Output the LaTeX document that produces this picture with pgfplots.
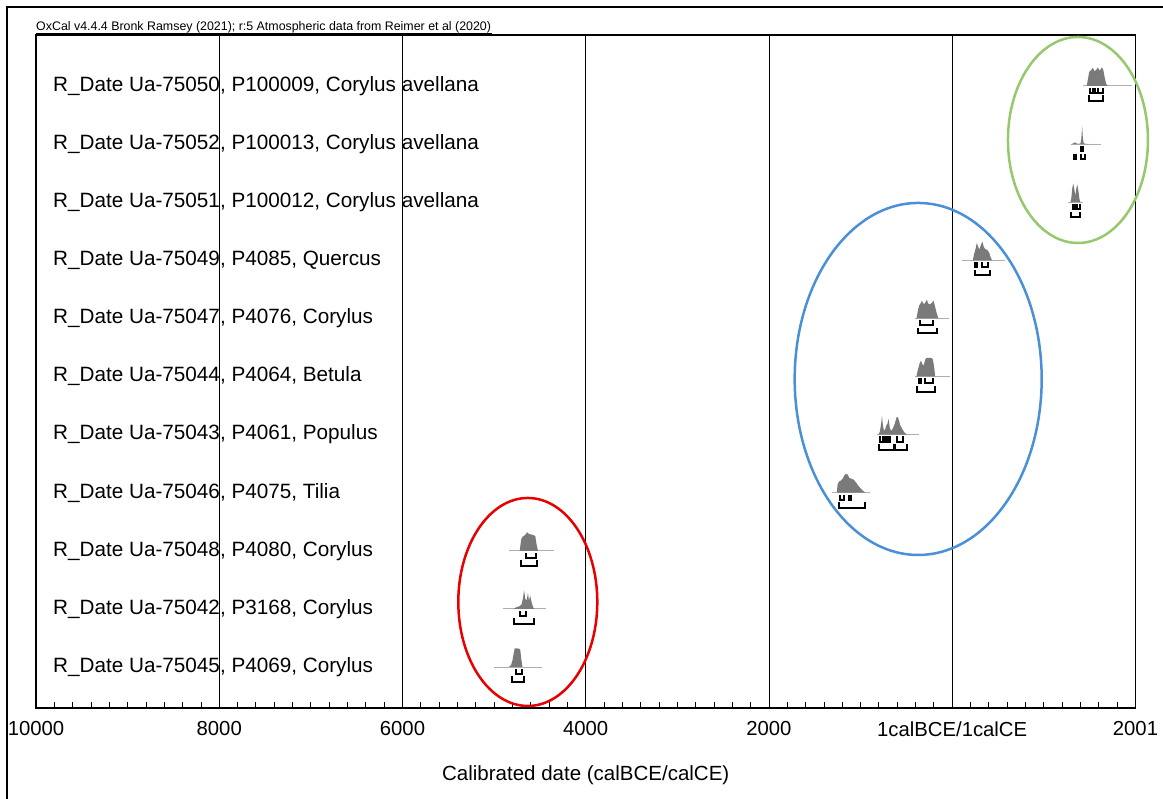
\documentclass[border=0pt]{standalone}
\usepackage{fontspec}
\setmainfont{Liberation Sans}
\usepackage{pgfplots}
\pgfplotsset{compat=1.18}
\usepackage{pgfplotstable}

\definecolor{distgray}{RGB}{122,122,122}
\definecolor{basegray}{RGB}{175,175,175}
\definecolor{ellgreen}{RGB}{150,200,110}
\definecolor{ellblue}{RGB}{74,144,217}
\definecolor{ellred}{RGB}{232,0,0}

% Calibrated probability distributions: yr = calendar year (negative = BCE), p = relative probability
\pgfplotstableread{
yr p
1468 0
1480 0.3
1495 0.75
1515 0.85
1537 0.97
1552 0.8
1570 0.85
1591 1.0
1608 0.82
1622 0.9
1635 1.0
1650 0.85
1665 0.45
1682 0.1
1700 0
}\uaFiftyZero
\pgfplotstableread{
yr p
1300 0
1325 0.04
1340 0.1
1352 0.04
1380 0.01
1400 0.03
1410 0.3
1418 1.0
1426 0.35
1436 0.04
1460 0.01
1500 0
}\uaFiftyTwo
\pgfplotstableread{
yr p
1290 0
1300 0.2
1312 0.8
1322 1.0
1333 0.7
1345 0.35
1355 0.75
1366 0.95
1378 0.6
1390 0.15
1400 0
}\uaFiftyOne
\pgfplotstableread{
yr p
225 0
240 0.35
255 0.6
268 0.92
282 0.75
298 0.58
315 0.85
330 1.0
345 0.72
360 0.6
385 0.55
405 0.4
420 0.15
436 0
}\uaFortyNine
\pgfplotstableread{
yr p
-390 0
-375 0.4
-360 0.7
-345 0.8
-330 0.95
-315 0.8
-300 0.78
-288 0.9
-276 1.0
-262 0.8
-245 0.75
-225 0.82
-204 0.95
-190 0.7
-170 0.3
-150 0
}\uaFortySeven
\pgfplotstableread{
yr p
-390 0
-375 0.35
-355 0.7
-341 0.85
-325 0.65
-310 0.6
-295 0.9
-280 1.0
-250 1.0
-225 1.0
-210 0.9
-198 0.55
-185 0
}\uaFortyFour
\pgfplotstableread{
yr p
-805 0
-790 0.15
-775 0.6
-766 1.0
-757 0.55
-745 0.2
-730 0.3
-718 0.5
-705 0.6
-694 0.85
-682 0.4
-668 0.2
-650 0.3
-625 0.6
-610 0.9
-595 0.95
-580 0.75
-567 0.5
-545 0.3
-520 0.1
-494 0
}\uaFortyThree
\pgfplotstableread{
yr p
-1260 0
-1250 0.45
-1235 0.6
-1215 0.65
-1195 0.75
-1175 0.95
-1160 1.0
-1140 0.98
-1125 0.8
-1100 0.75
-1075 0.7
-1050 0.55
-1020 0.35
-985 0.15
-948 0
}\uaFortySix
\pgfplotstableread{
yr p
-4720 0
-4705 0.6
-4690 0.75
-4660 0.85
-4640 1.0
-4625 0.92
-4600 0.88
-4570 0.85
-4550 0.78
-4535 0.3
-4520 0
}\uaFortyEight
\pgfplotstableread{
yr p
-4790 0
-4760 0.08
-4720 0.15
-4700 0.25
-4685 0.55
-4673 1.0
-4660 0.55
-4645 0.45
-4630 0.85
-4620 0.45
-4605 0.7
-4590 0.35
-4575 0.1
-4560 0
}\uaFortyTwo
\pgfplotstableread{
yr p
-4840 0
-4815 0.1
-4800 0.35
-4785 0.75
-4775 1.0
-4740 1.0
-4715 0.95
-4705 0.5
-4690 0
}\uaFortyFive

% one calibrated date: baseline (range of calculation) and filled distribution
\newcommand{\caldist}[4]{% #1 table, #2 row, #3 from, #4 to
  \addplot[basegray, line width=0.9pt] coordinates {(#3,#2) (#4,#2)};
  \addplot[fill=distgray, draw=none] table[x=yr, y expr=#2+0.32*\thisrow{p}] {#1};
}
% highest posterior density range: level 1 = 68.2%, level 2 = 95.4%
\newcommand{\hpd}[4]{% #1 row, #2 level, #3 from, #4 to
  \pgfmathsetmacro\hpdtop{#1-(#2==1 ? 0.05 : 0.18)}%
  \pgfmathsetmacro\hpdbot{#1-(#2==1 ? 0.12 : 0.26)}%
  \edef\hpdplot{\noexpand\addplot[black, line width=2pt, line cap=rect] coordinates {(#3,\hpdtop) (#3,\hpdbot) (#4,\hpdbot) (#4,\hpdtop)};}%
  \hpdplot
}

\begin{document}
\begin{tikzpicture}[x=1pt, y=1pt]
\begin{axis}[
  at={(36pt,91pt)}, anchor=south west,
  width=1099.5pt, height=673pt, scale only axis,
  xmin=-10000, xmax=2001, ymin=0.2943, ymax=11.877,
  clip=false,
  scaled x ticks=false,
  axis line style={line width=1.6pt},
  x axis line style={line width=2.4pt},
  xtick={-10000,-8000,-6000,-4000,-2000,0,2001},
  xticklabels={10000,8000,6000,4000,2000,1calBCE/1calCE,2001},
  minor xtick={-9800,-9600,...,1800},
  xtick pos=bottom, tick align=inside,
  major tick length=0pt, minor tick length=6pt,
  minor tick style={black, line width=0.8pt},
  xmajorgrids, major grid style={black, line width=0.8pt},
  ytick={1,...,11},
  ytick style={draw=none},
  yticklabels={
    {R\_Date Ua-75045, P4069, Corylus},
    {R\_Date Ua-75042, P3168, Corylus},
    {R\_Date Ua-75048, P4080, Corylus},
    {R\_Date Ua-75046, P4075, Tilia},
    {R\_Date Ua-75043, P4061, Populus},
    {R\_Date Ua-75044, P4064, Betula},
    {R\_Date Ua-75047, P4076, Corylus},
    {R\_Date Ua-75049, P4085, Quercus},
    {R\_Date Ua-75051, P100012, Corylus avellana},
    {R\_Date Ua-75052, P100013, Corylus avellana},
    {R\_Date Ua-75050, P100009, Corylus avellana}},
  yticklabel style={anchor=west, xshift=17pt, inner sep=0pt, font=\fontsize{20.7}{24}\selectfont},
  xticklabel style={font=\fontsize{20.3}{24}\selectfont, yshift=-10pt},
  xlabel={Calibrated date (calBCE/calCE)},
  xlabel style={at={(axis description cs:0.5,0)}, anchor=center, yshift=-67pt, font=\fontsize{20.5}{24}\selectfont},
]
\caldist{\uaFiftyZero}{11}{1428}{1962}
\caldist{\uaFiftyTwo}{10}{1294}{1621}
\caldist{\uaFiftyOne}{9}{1264}{1428}
\caldist{\uaFortyNine}{8}{109}{578}
\caldist{\uaFortySeven}{7}{-403}{-33}
\caldist{\uaFortyFour}{6}{-403}{-22}
\caldist{\uaFortyThree}{5}{-821}{-367}
\caldist{\uaFortySix}{4}{-1311}{-894}
\caldist{\uaFortyEight}{3}{-4836}{-4346}
\caldist{\uaFortyTwo}{2}{-4908}{-4436}
\caldist{\uaFortyFive}{1}{-5000}{-4472}

\hpd{11}{1}{1504}{1533} \hpd{11}{1}{1559}{1588} \hpd{11}{1}{1597}{1650}
\hpd{11}{2}{1497}{1650}
\hpd{10}{1}{1410}{1430}
\hpd{10}{2}{1335}{1350} \hpd{10}{2}{1410}{1452}
\hpd{9}{1}{1316}{1344} \hpd{9}{1}{1359}{1395}
\hpd{9}{2}{1300}{1395}
\hpd{8}{1}{251}{276} \hpd{8}{1}{324}{396}
\hpd{8}{2}{245}{414}
\hpd{7}{1}{-356}{-204}
\hpd{7}{2}{-370}{-167}
\hpd{6}{1}{-367}{-341} \hpd{6}{1}{-294}{-204}
\hpd{6}{2}{-385}{-185}
\hpd{5}{1}{-785}{-759} \hpd{5}{1}{-730}{-712} \hpd{5}{1}{-694}{-676} \hpd{5}{1}{-603}{-541}
\hpd{5}{2}{-803}{-640} \hpd{5}{2}{-621}{-494}
\hpd{4}{1}{-1221}{-1185} \hpd{4}{1}{-1130}{-1101}
\hpd{4}{2}{-1239}{-956}
\hpd{3}{1}{-4654}{-4545}
\hpd{3}{2}{-4701}{-4527}
\hpd{2}{1}{-4716}{-4654}
\hpd{2}{2}{-4782}{-4560}
\hpd{1}{1}{-4763}{-4690}
\hpd{1}{2}{-4800}{-4673}

% highlighted groups
\draw[ellgreen, line width=2.5pt] (axis cs:1373,10.07) ellipse [x radius=70pt, y radius=103pt];
\draw[ellblue, line width=2.5pt] (axis cs:-371,5.957) ellipse [x radius=123.5pt, y radius=176pt];
\draw[ellred, line width=2.5pt] (axis cs:-4632,2.119) ellipse [x radius=69.5pt, y radius=104pt];
\end{axis}

% header and page frame
\node[anchor=base west, inner sep=0pt, font=\fontsize{12.4}{14}\selectfont] at (36,768) {OxCal v4.4.4 Bronk Ramsey (2021); r:5 Atmospheric data from Reimer et al (2020)};
\draw[line width=0.8pt] (36,765.5) -- (492,765.5);
\draw[line width=1.5pt] (7,-5) -- (7,792) -- (1170,792);

\pgfresetboundingbox
\path[use as bounding box] (0,0) rectangle (1163,799);
\end{tikzpicture}
\end{document}
